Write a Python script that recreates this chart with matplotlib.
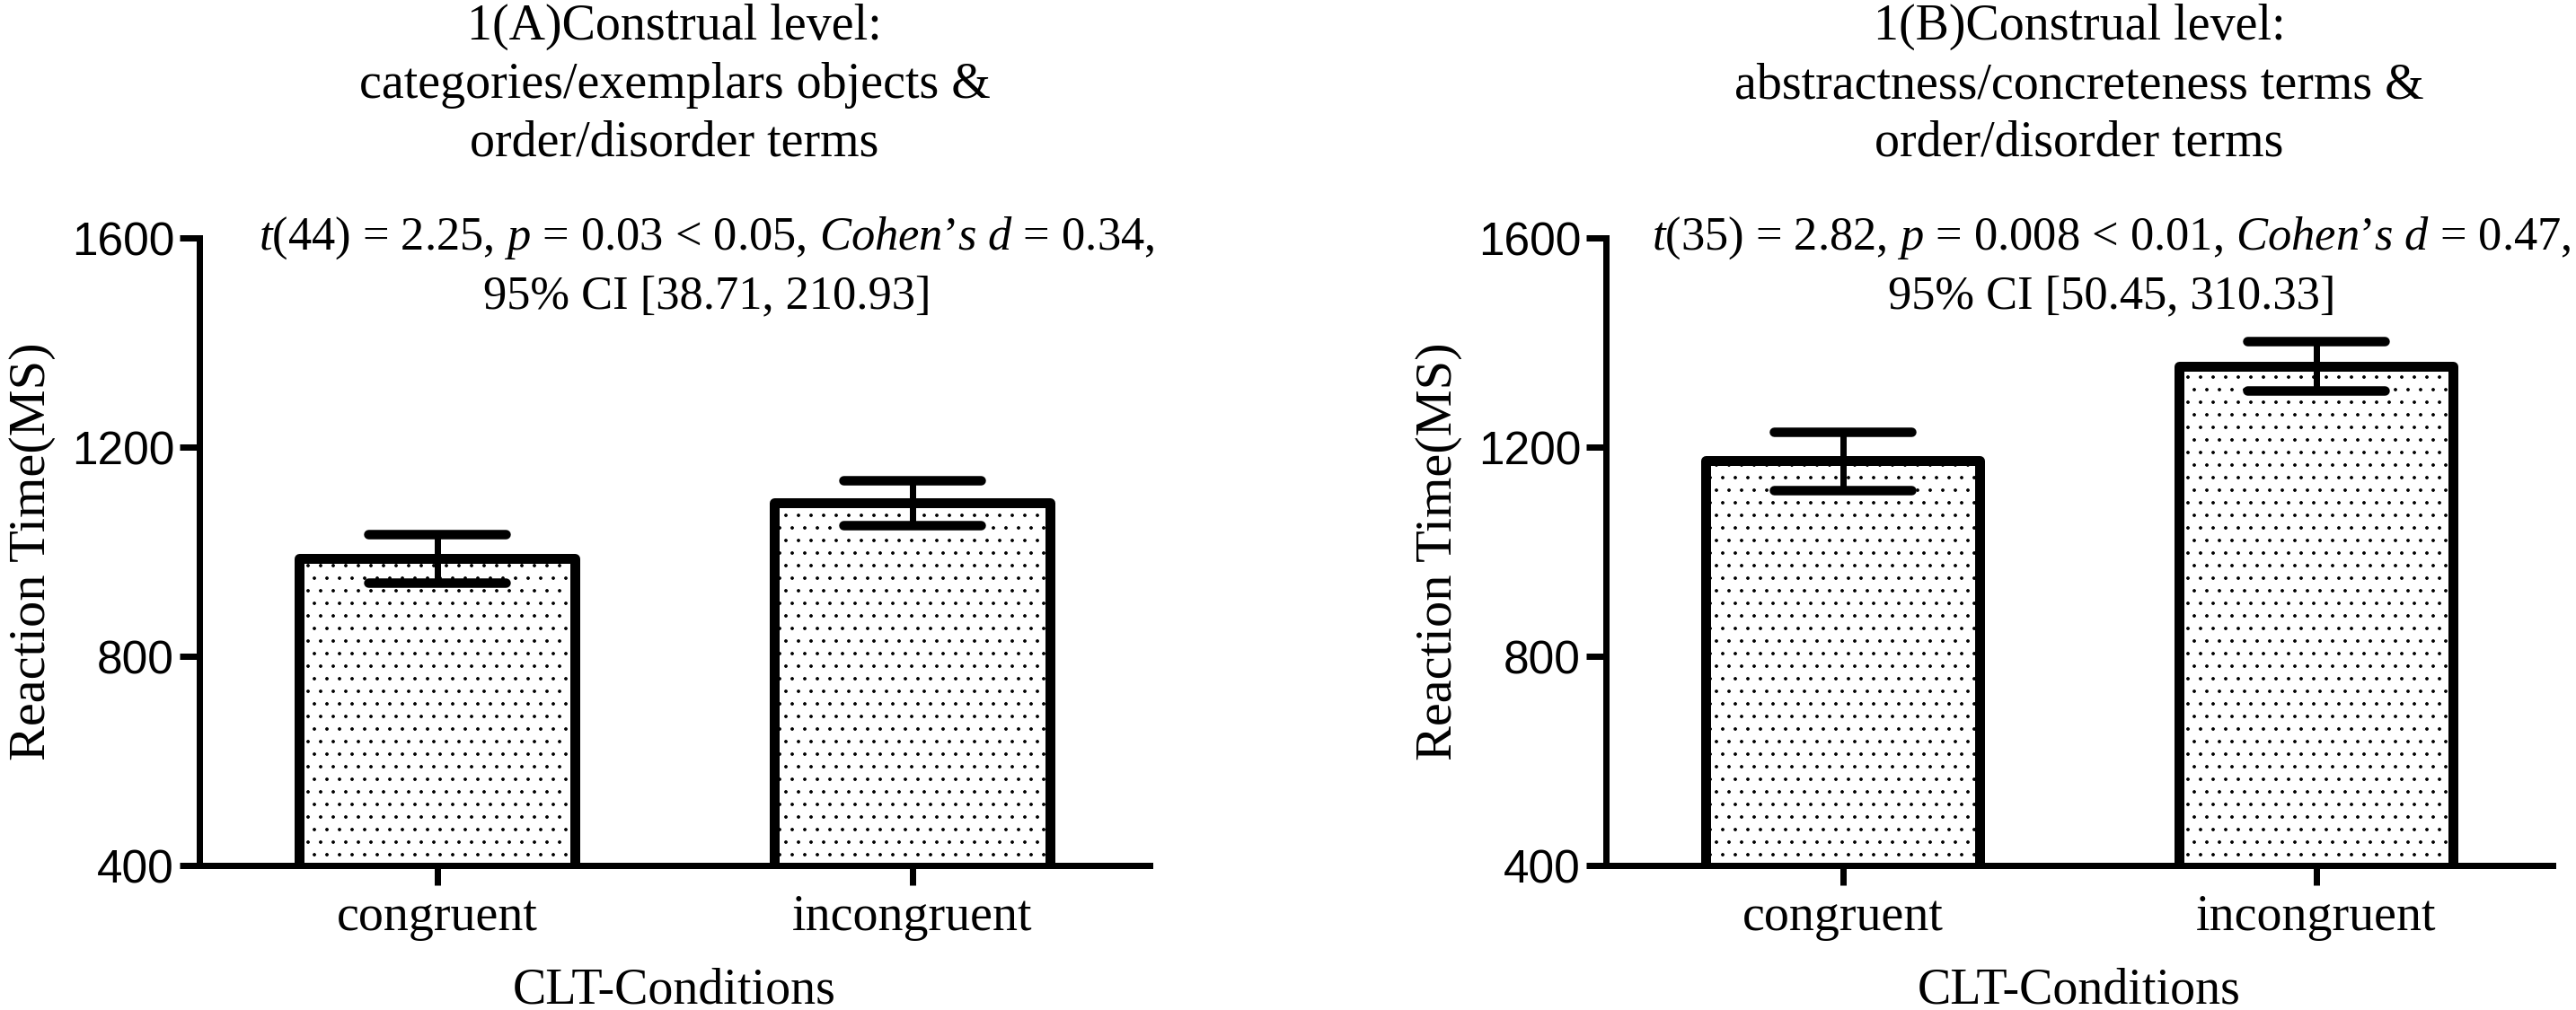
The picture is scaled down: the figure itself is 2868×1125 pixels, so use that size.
import matplotlib.pyplot as plt
import numpy as np

plt.rcParams['mathtext.fontset'] = 'custom'
plt.rcParams['mathtext.rm'] = 'Liberation Serif'
plt.rcParams['mathtext.it'] = 'Liberation Serif:italic'
plt.rcParams['hatch.linewidth'] = 0.8
plt.rcParams['hatch.color'] = 'black'

# data
conditions = ['congruent', 'incongruent']
means_a = [987, 1093]
sem_a = [46, 43]
means_b = [1174, 1355]
sem_b = [56, 47]
yticks = [400, 800, 1200, 1600]

titles = ['1(A)Construal level:\ncategories/exemplars objects &\norder/disorder terms',
          '1(B)Construal level:\nabstractness/concreteness terms &\norder/disorder terms']
stats = ['$t$(44) = 2.25, $p$ = 0.03 < 0.05, $Cohen\u2019s\\ d$ = 0.34,\n95% CI [38.71, 210.93]',
         '$t$(35) = 2.82, $p$ = 0.008 < 0.01, $Cohen\u2019s\\ d$ = 0.47,\n95% CI [50.45, 310.33]']

DPI = 84
W, H = 2868, 1125

def pt(v):
    # pixels -> points
    return v * 72 / DPI

fig = plt.figure(figsize=(W / DPI, H / DPI), dpi=DPI)

axes_px = [(222, 1280), (1788, 2842)]
top, bot = 265, 964

for i, (means, sem) in enumerate([(means_a, sem_a), (means_b, sem_b)]):
    l, r = axes_px[i]
    ax = fig.add_axes([l / W, 1 - bot / H, (r - l) / W, (bot - top) / H])
    x = np.arange(len(conditions))
    means = np.array(means)
    sem = np.array(sem)

    ax.bar(x, means, width=0.58, color='white', edgecolor='black', hatch='.',
           linewidth=pt(11), joinstyle='round', zorder=2)
    ax.errorbar(x, means, yerr=sem, fmt='none', ecolor='black',
                elinewidth=pt(7), capsize=0, zorder=3)
    for yy in (means + sem, means - sem):
        ax.hlines(yy, x - 0.145, x + 0.145, colors='black', linewidth=pt(10.5),
                  capstyle='round', zorder=3)

    ax.set_xlim(-0.5, 1.5)
    ax.set_ylim(400, 1600)
    ax.spines['top'].set_visible(False)
    ax.spines['right'].set_visible(False)
    ax.spines['left'].set_linewidth(pt(7))
    ax.spines['bottom'].set_linewidth(pt(7))
    ax.tick_params(axis='both', direction='out', length=pt(22), width=pt(7))
    ax.tick_params(axis='y', pad=pt(6))
    ax.tick_params(axis='x', pad=pt(10))

    ax.set_yticks(yticks)
    ax.set_yticklabels([str(v) for v in yticks], fontfamily='Liberation Sans', fontsize=44)
    ax.set_xticks(x)
    ax.set_xticklabels(conditions, fontfamily='Liberation Serif', fontsize=48)

    ax.set_ylabel('Reaction Time(MS)', fontfamily='Liberation Serif', fontsize=50)
    ax.yaxis.set_label_coords(-160 / (r - l), 0.5)
    ax.set_xlabel('CLT-Conditions', fontfamily='Liberation Serif', fontsize=48, labelpad=pt(30))

    cx = (l + r) / 2 / W
    fig.text(cx, 1 - 4 / H, titles[i], ha='center', va='top', fontfamily='Liberation Serif',
             fontsize=48, linespacing=1.32)
    sx = (l + 0.534 * (r - l)) / W
    fig.text(sx, 1 - 297 / H, stats[i], ha='center', va='center', fontfamily='Liberation Serif',
             fontsize=45, linespacing=1.4)

fig.savefig('out.png', dpi=DPI)
